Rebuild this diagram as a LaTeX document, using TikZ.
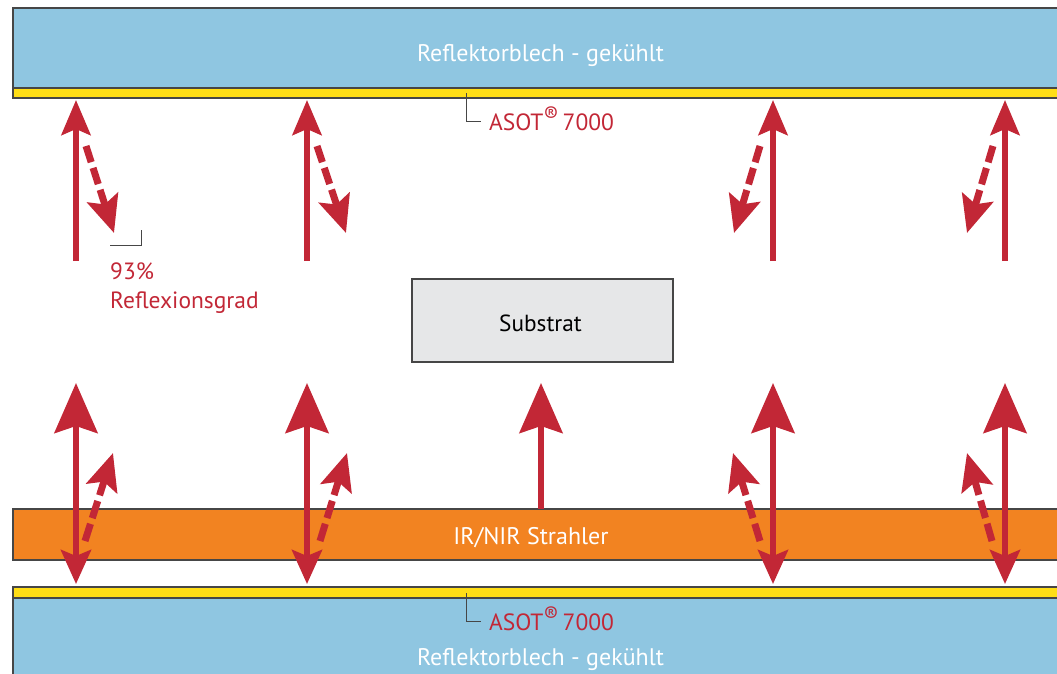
\documentclass[tikz,border=0pt]{standalone}
\usepackage{fontspec}
\setmainfont{PT Sans}
\usetikzlibrary{arrows.meta}
\definecolor{ared}{RGB}{194,39,54}
\definecolor{pblue}{RGB}{143,198,225}
\definecolor{pyellow}{RGB}{255,222,22}
\definecolor{porange}{RGB}{242,131,33}
\definecolor{pgray}{RGB}{230,231,232}
\definecolor{pline}{RGB}{70,70,70}
\newcommand{\regmark}{\raisebox{0.3em}{\fontsize{22}{22}\selectfont ®}}
\tikzset{
  plate/.style={draw=pline, line width=1.2pt, anchor=north west, inner sep=0pt, outer sep=0pt},
  whitetxt/.style={text=white, font=\fontsize{24}{28}\selectfont, anchor=base, inner sep=0pt},
  redtxt/.style={text=ared, font=\fontsize{23.5}{27}\selectfont, inner sep=0pt},
  leader/.style={draw=pline, line width=1pt},
  solidsmall/.style={draw=ared, line width=6pt, -{Stealth[length=35pt,width=29pt,inset=6pt]}},
  dashsmall/.style={draw=ared, line width=7pt, dash pattern=on 17pt off 6pt, -{Stealth[length=37pt,width=32pt,inset=7pt]}},
  solidbig/.style={draw=ared, line width=6pt, -{Stealth[length=50pt,width=43pt,inset=7pt]}},
  doublebig/.style={draw=ared, line width=6pt, {Stealth[length=34pt,width=30pt,inset=6pt]}-{Stealth[length=50pt,width=43pt,inset=7pt]}},
  dashbig/.style={draw=ared, line width=7pt, dash pattern=on 18pt off 6pt, -{Stealth[length=37pt,width=32pt,inset=7pt]}},
}
\begin{document}
\begin{tikzpicture}[x=1pt,y=-1pt]
\useasboundingbox (0,0) rectangle (1057,673);
\clip (0,0) rectangle (1057,673);
% top plate
\node[plate, fill=pblue, minimum width=1060pt, minimum height=80pt] (topblue) at (13,8) {};
\node[plate, fill=pyellow, minimum width=1060pt, minimum height=10pt] (topyellow) at (13,88) {};
\node[whitetxt] (toptxt) at (540.5,61) {Reflektorblech - gekühlt};
\node[redtxt, anchor=base west] (asot1) at (489,130) {ASOT\regmark\,7000};
\coordinate (l1a) at (466,93);
\coordinate (l1b) at (481,121);
\draw[leader] (l1a) |- (l1b);
% substrate
\node[draw=pline, line width=1.2pt, fill=pgray, minimum width=261pt, minimum height=83pt, inner sep=0pt] (substrat) at (542.5,320.5) {};
\node[text=black, font=\fontsize{23.3}{27}\selectfont, anchor=base, inner sep=0pt] (subtxt) at (540.5,331) {Substrat};
% 93% label
\node[redtxt, anchor=base west] (pct) at (110,279) {93\%};
\node[redtxt, anchor=base west] (refl) at (110,308) {Reflexionsgrad};
\coordinate (l3a) at (110,245);
\coordinate (l3b) at (141,230);
\draw[leader] (l3a) -| (l3b);
% bottom heater
\node[plate, fill=porange, minimum width=1060pt, minimum height=51pt] (heater) at (13,509) {};
\node[whitetxt] (heattxt) at (531,544) {IR/NIR Strahler};
% bottom plate
\node[plate, fill=pyellow, minimum width=1060pt, minimum height=11pt] (botyellow) at (13,587) {};
\node[plate, fill=pblue, minimum width=1060pt, minimum height=90pt] (botblue) at (13,598) {};
\node[whitetxt] (bottxt) at (540.5,665) {Reflektorblech - gekühlt};
\node[redtxt, anchor=base west] (asot2) at (489,630) {ASOT\regmark\,7000};
\coordinate (l2a) at (466,593);
\coordinate (l2b) at (481,621);
\draw[leader] (l2a) |- (l2b);
% top arrows
\foreach \x/\n in {76/a,307/b,773/c,1005/d}{
  \coordinate (ts\n) at (\x,261);
  \coordinate (tt\n) at (\x,100);
  \draw[solidsmall] (ts\n) -- (tt\n);
}
\coordinate (da1) at (86,146);  \coordinate (da2) at (114,233);
\coordinate (db1) at (317,146); \coordinate (db2) at (346,233);
\coordinate (dc1) at (760,146); \coordinate (dc2) at (734,233);
\coordinate (dd1) at (993,146); \coordinate (dd2) at (967,233);
\foreach \n in {a,b,c,d}{ \draw[dashsmall] (d\n1) -- (d\n2); }
% bottom arrows
\foreach \x/\n in {76/a,307/b,773/c,1005/d}{
  \coordinate (bs\n) at (\x,584);
  \coordinate (bt\n) at (\x,383);
  \draw[doublebig] (bs\n) -- (bt\n);
}
\coordinate (mid1) at (541,509);
\coordinate (mid2) at (541,383);
\draw[solidbig] (mid1) -- (mid2);
\coordinate (ea1) at (85,541);  \coordinate (ea2) at (113,453);
\coordinate (eb1) at (320,541); \coordinate (eb2) at (347,453);
\coordinate (ec1) at (760,541); \coordinate (ec2) at (733,453);
\coordinate (ed1) at (992,541); \coordinate (ed2) at (967,453);
\foreach \n in {a,b,c,d}{ \draw[dashbig] (e\n1) -- (e\n2); }
\end{tikzpicture}
\end{document}
